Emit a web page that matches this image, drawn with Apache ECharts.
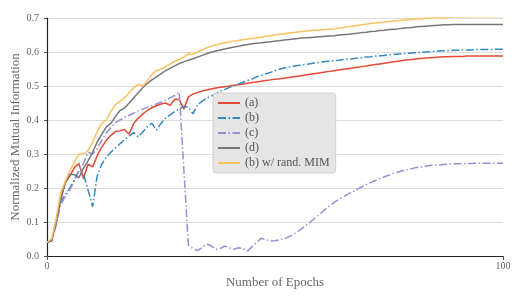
<!DOCTYPE html>
<html>
<head>
<meta charset="utf-8">
<script src="https://cdn.jsdelivr.net/npm/echarts@6/dist/echarts.min.js"></script>
<style>html,body{margin:0;padding:0;background:#fff}#c{width:523px;height:299px}</style>
</head>
<body>
<div id="c"></div>
<script>
const seriesNames = ['(a)', '(b)', '(c)', '(d)', '(b) w/ rand. MIM'];
const xTicks = [0, 100];
const seriesA = [0.040,0.045,0.100,0.165,0.215,0.235,0.260,0.272,0.228,0.270,
 0.262,0.295,0.320,0.340,0.355,0.366,0.368,0.372,0.358,0.390,
 0.405,0.418,0.428,0.436,0.442,0.447,0.450,0.443,0.461,0.460,
 0.432,0.468,0.476,0.481,0.485,0.488,0.491,0.494,0.496,0.498,
 0.500,0.502,0.504,0.506,0.508,0.510,0.512,0.514,0.516,0.518,
 0.520,0.521,0.523,0.525,0.527,0.529,0.531,0.533,0.535,0.537,
 0.539,0.541,0.543,0.545,0.547,0.549,0.551,0.553,0.555,0.557,
 0.559,0.561,0.563,0.565,0.567,0.569,0.571,0.573,0.575,0.577,
 0.578,0.580,0.581,0.582,0.583,0.584,0.585,0.586,0.586,0.587,
 0.587,0.587,0.588,0.588,0.588,0.588,0.588,0.588,0.588,0.588,
 0.588];
const seriesB = [0.040,0.045,0.095,0.160,0.180,0.200,0.225,0.250,0.240,0.195,
 0.145,0.235,0.270,0.290,0.305,0.318,0.330,0.342,0.352,0.363,
 0.350,0.365,0.380,0.390,0.370,0.390,0.405,0.415,0.425,0.433,
 0.440,0.438,0.418,0.445,0.455,0.464,0.470,0.478,0.485,0.490,
 0.496,0.501,0.506,0.511,0.516,0.521,0.527,0.531,0.536,0.540,
 0.545,0.549,0.553,0.556,0.558,0.560,0.562,0.564,0.566,0.568,
 0.570,0.572,0.573,0.575,0.576,0.578,0.579,0.580,0.582,0.583,
 0.585,0.586,0.588,0.589,0.590,0.592,0.593,0.594,0.595,0.596,
 0.597,0.598,0.599,0.600,0.601,0.602,0.603,0.604,0.604,0.605,
 0.605,0.606,0.606,0.606,0.607,0.607,0.607,0.607,0.608,0.608,
 0.608];
const seriesC = [0.040,0.045,0.090,0.150,0.175,0.195,0.220,0.250,0.272,0.305,
 0.300,0.315,0.340,0.362,0.378,0.392,0.400,0.408,0.414,0.420,
 0.427,0.432,0.437,0.442,0.447,0.452,0.458,0.465,0.472,0.482,
 0.257,0.032,0.022,0.016,0.025,0.035,0.030,0.020,0.022,0.029,
 0.024,0.020,0.024,0.022,0.015,0.028,0.040,0.052,0.048,0.044,
 0.045,0.048,0.051,0.056,0.063,0.072,0.082,0.092,0.103,0.114,
 0.125,0.137,0.148,0.158,0.166,0.174,0.182,0.189,0.196,0.203,
 0.210,0.216,0.222,0.228,0.233,0.238,0.243,0.247,0.251,0.254,
 0.257,0.260,0.262,0.264,0.266,0.267,0.268,0.269,0.270,0.271,
 0.271,0.272,0.272,0.272,0.273,0.273,0.273,0.273,0.273,0.273,
 0.273];
const seriesD = [0.040,0.045,0.100,0.170,0.215,0.240,0.240,0.230,0.258,0.280,
 0.305,0.335,0.358,0.380,0.390,0.410,0.428,0.435,0.450,0.465,
 0.480,0.495,0.508,0.518,0.527,0.536,0.545,0.552,0.559,0.566,
 0.571,0.576,0.580,0.585,0.590,0.595,0.599,0.603,0.606,0.609,
 0.612,0.615,0.617,0.620,0.622,0.624,0.626,0.627,0.629,0.630,
 0.632,0.633,0.635,0.637,0.638,0.640,0.641,0.642,0.643,0.644,
 0.645,0.646,0.647,0.648,0.650,0.651,0.652,0.654,0.655,0.657,
 0.658,0.660,0.661,0.663,0.664,0.666,0.667,0.668,0.670,0.671,
 0.672,0.674,0.675,0.676,0.677,0.678,0.679,0.680,0.680,0.681,
 0.681,0.681,0.681,0.681,0.681,0.681,0.681,0.681,0.681,0.681,
 0.681];
const seriesE = [0.040,0.050,0.110,0.185,0.220,0.250,0.275,0.300,0.300,0.310,
 0.335,0.365,0.390,0.400,0.425,0.445,0.455,0.465,0.480,0.495,
 0.505,0.500,0.515,0.535,0.545,0.550,0.557,0.565,0.572,0.578,
 0.585,0.595,0.593,0.600,0.606,0.612,0.617,0.621,0.624,0.627,
 0.630,0.632,0.634,0.636,0.638,0.640,0.642,0.644,0.646,0.648,
 0.650,0.652,0.654,0.656,0.657,0.659,0.660,0.662,0.663,0.664,
 0.665,0.666,0.667,0.668,0.670,0.672,0.674,0.676,0.678,0.680,
 0.682,0.684,0.685,0.687,0.688,0.690,0.691,0.692,0.694,0.695,
 0.696,0.697,0.698,0.699,0.700,0.700,0.701,0.701,0.702,0.702,
 0.703,0.703,0.703,0.704,0.704,0.704,0.704,0.704,0.704,0.704,
 0.704];

const allValues = [seriesA, seriesB, seriesC, seriesD, seriesE];
const colors = ['#E24A33', '#348ABD', '#988ED5', '#777777', '#FBC15E'];
const dashDot = [8, 2.5, 1.5, 2.5];
const styles = ['solid', dashDot, dashDot, 'solid', 'solid'];
const FONT = '"Liberation Serif", "DejaVu Serif", serif';

const chart = echarts.init(document.getElementById('c'), null, {renderer: 'canvas'});
chart.setOption({
  animation: false,
  backgroundColor: '#ffffff',
  grid: {left: 47, right: 20, top: 18, bottom: 43, containLabel: false, outerBoundsMode: 'none'},
  legend: {
    data: seriesNames,
    orient: 'vertical',
    left: 213, top: 93,
    backgroundColor: '#e5e5e5',
    borderColor: '#d0d0d0',
    borderWidth: 1,
    borderRadius: 3,
    padding: [4, 6, 4, 4],
    itemWidth: 22, itemHeight: 10, itemGap: 3,
    itemStyle: {opacity: 0},
    textStyle: {fontFamily: FONT, fontSize: 12, color: '#555'}
  },
  xAxis: {
    type: 'value', min: 0, max: 100, interval: 100,
    name: 'Number of Epochs', nameLocation: 'middle', nameGap: 20,
    nameMoveOverlap: false,
    nameTextStyle: {fontFamily: FONT, fontSize: 13, color: '#666'},
    axisLine: {lineStyle: {color: '#222', width: 1.2}},
    axisTick: {show: true, length: 4, lineStyle: {color: '#555'}},
    axisLabel: {fontFamily: FONT, fontSize: 10, color: '#666', margin: 5,
      formatter: v => xTicks.includes(v) ? String(v) : ''},
    splitLine: {show: false}
  },
  yAxis: {
    type: 'value', min: 0, max: 0.7, interval: 0.1,
    name: 'Normalized Mutual Information', nameLocation: 'middle', nameGap: 25,
    nameMoveOverlap: false,
    nameTextStyle: {fontFamily: FONT, fontSize: 13, color: '#666'},
    axisLine: {show: true, lineStyle: {color: '#222', width: 1.2}},
    axisTick: {show: true, length: 3, lineStyle: {color: '#555'}},
    axisLabel: {fontFamily: FONT, fontSize: 10, color: '#666', margin: 8,
      formatter: v => v.toFixed(1)},
    splitLine: {show: true, lineStyle: {color: '#dcdcdc', width: 1.2}}
  },
  series: seriesNames.map((n, i) => ({
    name: n, type: 'line', symbol: 'none', showSymbol: false,
    data: allValues[i].map((v, k) => [k, v]),
    color: colors[i],
    lineStyle: {color: colors[i], width: 1.5, type: styles[i]},
    itemStyle: {color: colors[i]}
  }))
});
</script>
</body>
</html>
